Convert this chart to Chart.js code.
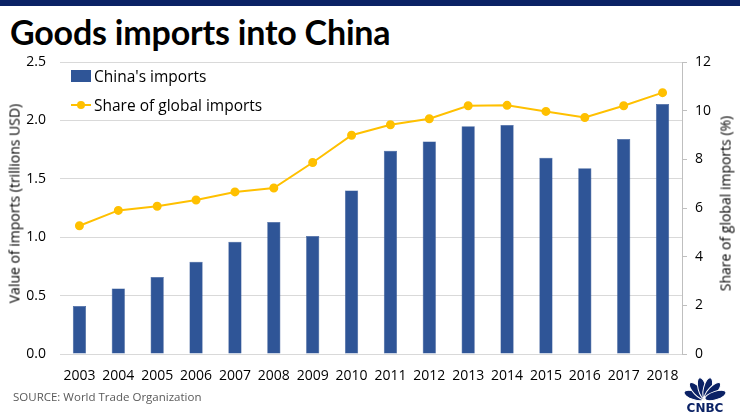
<!DOCTYPE html>
<html>
<head>
<meta charset="utf-8">
<script src="https://cdn.jsdelivr.net/npm/chart.js@4"></script>
<style>
  body { margin: 0; width: 740px; height: 416px; background: #fff; overflow: hidden; font-family: "Open Sans", sans-serif; }
  #band { position: absolute; left: 0; top: 0; width: 740px; height: 6px; background: #0b2265; }
  #title { position: absolute; left: 10px; top: 11px; font-family: Lato, sans-serif; font-weight: 700; font-size: 34px; color: #000; letter-spacing: -0.2px; }
  #wrap { position: absolute; left: 0; top: 0; width: 740px; height: 416px; }
  #source { position: absolute; left: 13px; top: 389px; font-size: 11.5px; color: #595959; }
  .leg { position: absolute; left: 71px; font-size: 15.5px; color: #000; display: flex; align-items: center; }
  .box { width: 20px; height: 12px; background: #2f5597; margin-right: 3px; }
  .ln { width: 20px; height: 2px; background: #ffc000; margin-right: 3px; position: relative; }
  .ln::after { content: ""; position: absolute; left: 6px; top: -3px; width: 8px; height: 8px; border-radius: 50%; background: #ffc000; }
  .ytitle { position: absolute; width: 300px; text-align: center; font-size: 14px; color: #000; transform: rotate(-90deg); transform-origin: center center; }
</style>
</head>
<body>
<div id="band"></div>
<div id="title">Goods imports into China</div>
<div id="wrap"><canvas id="chart"></canvas></div>
<div class="leg" style="top:65px"><span class="box"></span>China's imports</div>
<div class="leg" style="top:94px"><span class="ln"></span>Share of global imports</div>
<div class="ytitle" style="left:-136px; top:194px">Value of imports (trillions USD)</div>
<div class="ytitle" style="left:575px; top:194px">Share of global imports (%)</div>
<div id="source">SOURCE: World Trade Organization</div>
<script>
var years = ["2003", "2004", "2005", "2006", "2007", "2008", "2009", "2010",
             "2011", "2012", "2013", "2014", "2015", "2016", "2017", "2018"];
var importsValue = [0.41, 0.56, 0.66, 0.79, 0.96, 1.13, 1.01, 1.40,
                    1.74, 1.82, 1.95, 1.96, 1.68, 1.59, 1.84, 2.14];
var globalShare = [5.27, 5.9, 6.07, 6.33, 6.66, 6.82, 7.87, 8.99,
                   9.42, 9.67, 10.2, 10.22, 9.97, 9.72, 10.2, 10.74];

// CNBC logo, bottom right
var logo = {
    id: "logo",
    afterDraw: function (chart) {
        var c = chart.ctx;
        var cx = 705, cy = 399;
        c.save();
        c.fillStyle = "#0b2265";
        c.strokeStyle = "#fff";
        c.lineWidth = 1;
        for (var i = 0; i < 6; i++) {
            var a = Math.PI * (1.1 + i * 0.16);
            c.save();
            c.translate(cx + Math.cos(a) * 11, cy + Math.sin(a) * 11);
            c.rotate(a + Math.PI / 2);
            c.beginPath();
            c.ellipse(0, 0, 4.2, 11, 0, 0, Math.PI * 2);
            c.fill();
            c.stroke();
            c.restore();
        }
        c.font = "bold 12px 'DejaVu Sans'";
        c.textAlign = "center";
        c.textBaseline = "alphabetic";
        c.fillText("CNBC", cx, 412);
        c.restore();
    }
};

var ctx = document.getElementById("chart").getContext("2d");
var myChart = new Chart(ctx, {
    type: "bar",
    data: {
        labels: years,
        datasets: [{
            type: "line",
            label: "Share of global imports",
            data: globalShare,
            yAxisID: "y2",
            borderColor: "#ffc000",
            backgroundColor: "#ffc000",
            borderWidth: 2,
            pointRadius: 3.5,
            pointHoverRadius: 3.5,
            tension: 0
        }, {
            label: "China's imports",
            data: importsValue,
            yAxisID: "y",
            backgroundColor: "#2f5597",
            borderColor: "#2a4f8f",
            borderWidth: 0.5,
            barPercentage: 0.34,
            categoryPercentage: 1
        }]
    },
    options: {
        responsive: true,
        maintainAspectRatio: false,
        animation: false,
        layout: { padding: { top: 62, bottom: 32, left: 0, right: 0 } },
        plugins: { legend: { display: false }, tooltip: { enabled: false } },
        scales: {
            x: {
                grid: { display: false },
                border: { display: true, color: "#d9d9d9" },
                ticks: { color: "#000", font: { family: "Open Sans", size: 14 }, padding: 6, maxRotation: 0 },
                afterFit: function (s) { s.height = 30; }
            },
            y: {
                position: "left",
                min: 0, max: 2.5,
                ticks: { stepSize: 0.5, color: "#000", font: { family: "Open Sans", size: 14 }, padding: 14,
                         callback: function (v) { return v.toFixed(1); } },
                grid: { color: "#d9d9d9", drawTicks: false },
                border: { display: false },
                afterFit: function (s) { s.width = 60; }
            },
            y2: {
                position: "right",
                min: 0, max: 12,
                ticks: { stepSize: 2, color: "#000", font: { family: "Open Sans", size: 14 }, padding: 8 },
                grid: { drawOnChartArea: false, drawTicks: true, tickLength: 5, color: "#bfbfbf" },
                border: { display: true, color: "#bfbfbf" },
                afterFit: function (s) { s.width = 58; }
            }
        }
    },
    plugins: [logo]
});
</script>
</body>
</html>
